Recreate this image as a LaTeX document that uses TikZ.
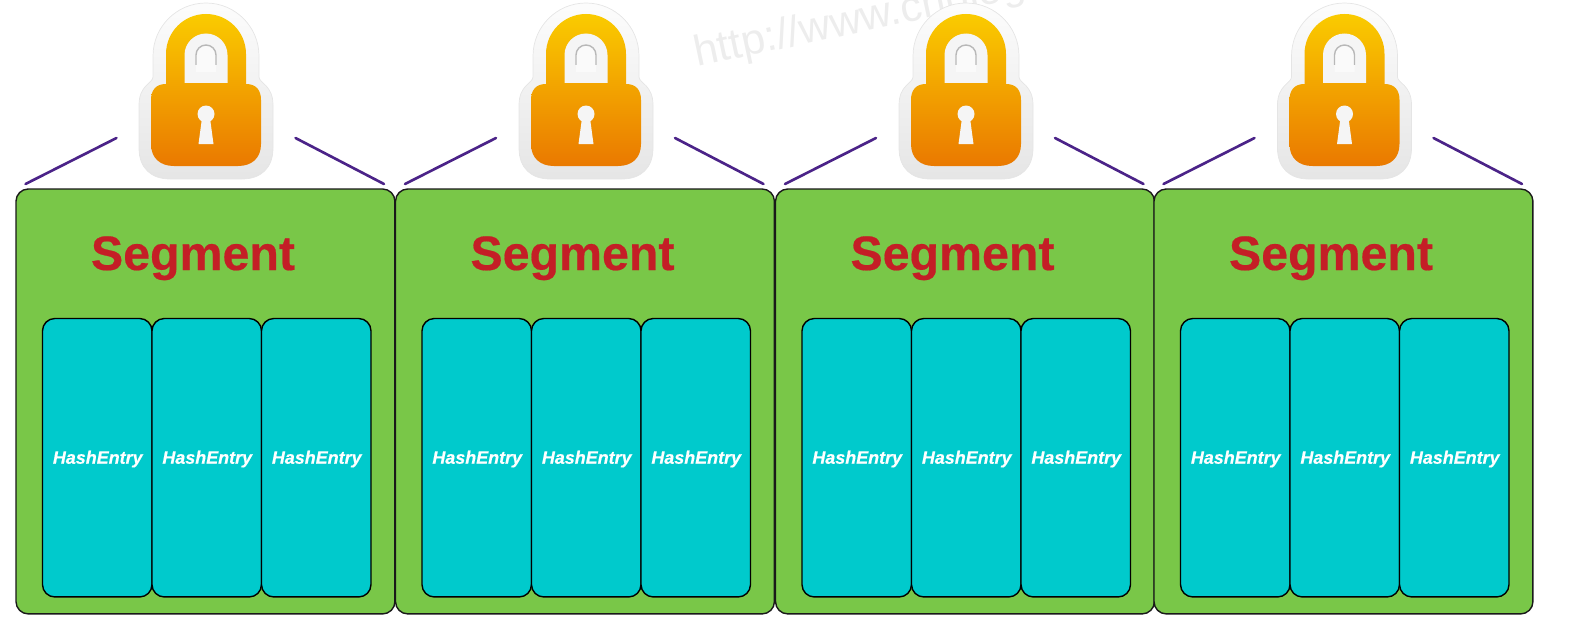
\documentclass[tikz,border=0pt]{standalone}
\usepackage{fontspec}
\setmainfont{Liberation Sans}
\usetikzlibrary{calc}
\definecolor{segfill}{HTML}{79C748}
\definecolor{entryfill}{HTML}{00CACC}
\definecolor{segred}{HTML}{C41E26}
\definecolor{linepurple}{HTML}{4B2388}
\definecolor{lockyellow}{HTML}{FACB00}
\definecolor{lockorange}{HTML}{EA7900}
\tikzset{
  segbox/.style={draw=black!90,line width=0.8pt,fill=segfill,rounded corners=7pt,
    minimum width=7.58cm,minimum height=8.5cm,inner sep=0pt,outer sep=0pt},
  entrybox/.style={draw=black,line width=0.8pt,fill=entryfill,rounded corners=7pt,
    minimum width=2.19cm,minimum height=5.57cm,inner sep=0pt,outer sep=0pt},
  entrytext/.style={text=white,inner sep=0pt,anchor=base,
    font=\fontsize{10.2}{12}\selectfont\bfseries\itshape\addfontfeature{FakeBold=0.4}},
  segtitle/.style={text=segred,inner sep=0pt,anchor=base,
    font=\fontsize{27.5}{30}\selectfont\bfseries\addfontfeature{FakeBold=0.4}},
  lockline/.style={draw=linepurple,line width=1.5pt,line cap=round},
  watermark/.style={text=black!7,font=\fontsize{24.5}{28}\selectfont,inner sep=0pt,anchor=base west,rotate=12},
  lockicon/.pic={
    % halo
    \shade[top color=black!1,bottom color=black!10,draw=black!10,line width=0.4pt]
      (-53,574) arc[start angle=180,end angle=0,radius=53] -- (53,553)
      .. controls (53,547) and (67,545) .. (67,525) -- (67,482)
      .. controls (67,462) and (55,451) .. (36,451) -- (-36,451)
      .. controls (-55,451) and (-67,462) .. (-67,482) -- (-67,525)
      .. controls (-67,545) and (-53,547) .. (-53,553) -- cycle;
    % shackle and body
    \shade[top color=lockyellow,bottom color=lockorange]
      (-40,546) -- (-40,576) arc[start angle=180,end angle=0,radius=40] -- (40,546)
      .. controls (50,546) and (55,540) .. (55,530) -- (55,486)
      .. controls (55,472) and (46,464) .. (32,464) -- (-32,464)
      .. controls (-46,464) and (-55,472) .. (-55,486) -- (-55,530)
      .. controls (-55,540) and (-50,546) .. (-40,546) -- cycle;
    \fill[black!4] (-21.5,547) -- (-21.5,575) arc[start angle=180,end angle=0,radius=21.5] -- (21.5,547) -- cycle;
    \fill[black!2] (-10,558) -- (-10,575) arc[start angle=180,end angle=0,radius=10] -- (10,558) -- cycle;
    \draw[black!28,line width=0.8pt] (-10,565) -- (-10,575) arc[start angle=180,end angle=0,radius=10] -- (10,565);
    % keyhole
    \fill[black!4] (0,516) circle[radius=8.5];
    \fill[black!4] (-4,512) -- (4,512) -- (7.5,486) -- (-7.5,486) -- cycle;
  }
}
\begin{document}
\begin{tikzpicture}[x=0.02cm,y=0.02cm]
\useasboundingbox (0,0) rectangle (1578,630);
\begin{scope}
\clip (0,0) rectangle (1578,630);
\node[watermark] (mark) at (697,563) {http://www.cnblogs};
\end{scope}
\foreach \i/\sx/\cx in {1/16/206,2/395.5/586,3/775.5/966,4/1154/1344.5}{
  \pic at (\cx,0) {lockicon};
  \coordinate (lineA\i) at ($(\sx,0)+(9.5,446)$);
  \coordinate (lineB\i) at ($(\sx,0)+(100.5,492)$);
  \coordinate (lineC\i) at ($(\sx,0)+(279.5,492)$);
  \coordinate (lineD\i) at ($(\sx,0)+(368,446)$);
  \draw[lockline] (lineA\i) -- (lineB\i);
  \draw[lockline] (lineC\i) -- (lineD\i);
  \node[segbox,anchor=north west] (seg\i) at (\sx,441) {};
  \node[segtitle] (title\i) at ($(\sx,0)+(177,360)$) {Segment};
  \node[entrybox,anchor=north west] (entry\i a) at ($(\sx,0)+(26.5,311.5)$) {};
  \node[entrybox,anchor=north west] (entry\i b) at ($(\sx,0)+(136,311.5)$) {};
  \node[entrybox,anchor=north west] (entry\i c) at ($(\sx,0)+(245.5,311.5)$) {};
  \node[entrytext] (hash\i a) at ($(entry\i a.center)+(0.5,-6)$) {HashEntry};
  \node[entrytext] (hash\i b) at ($(entry\i b.center)+(0.5,-6)$) {HashEntry};
  \node[entrytext] (hash\i c) at ($(entry\i c.center)+(0.5,-6)$) {HashEntry};
}
\end{tikzpicture}
\end{document}
